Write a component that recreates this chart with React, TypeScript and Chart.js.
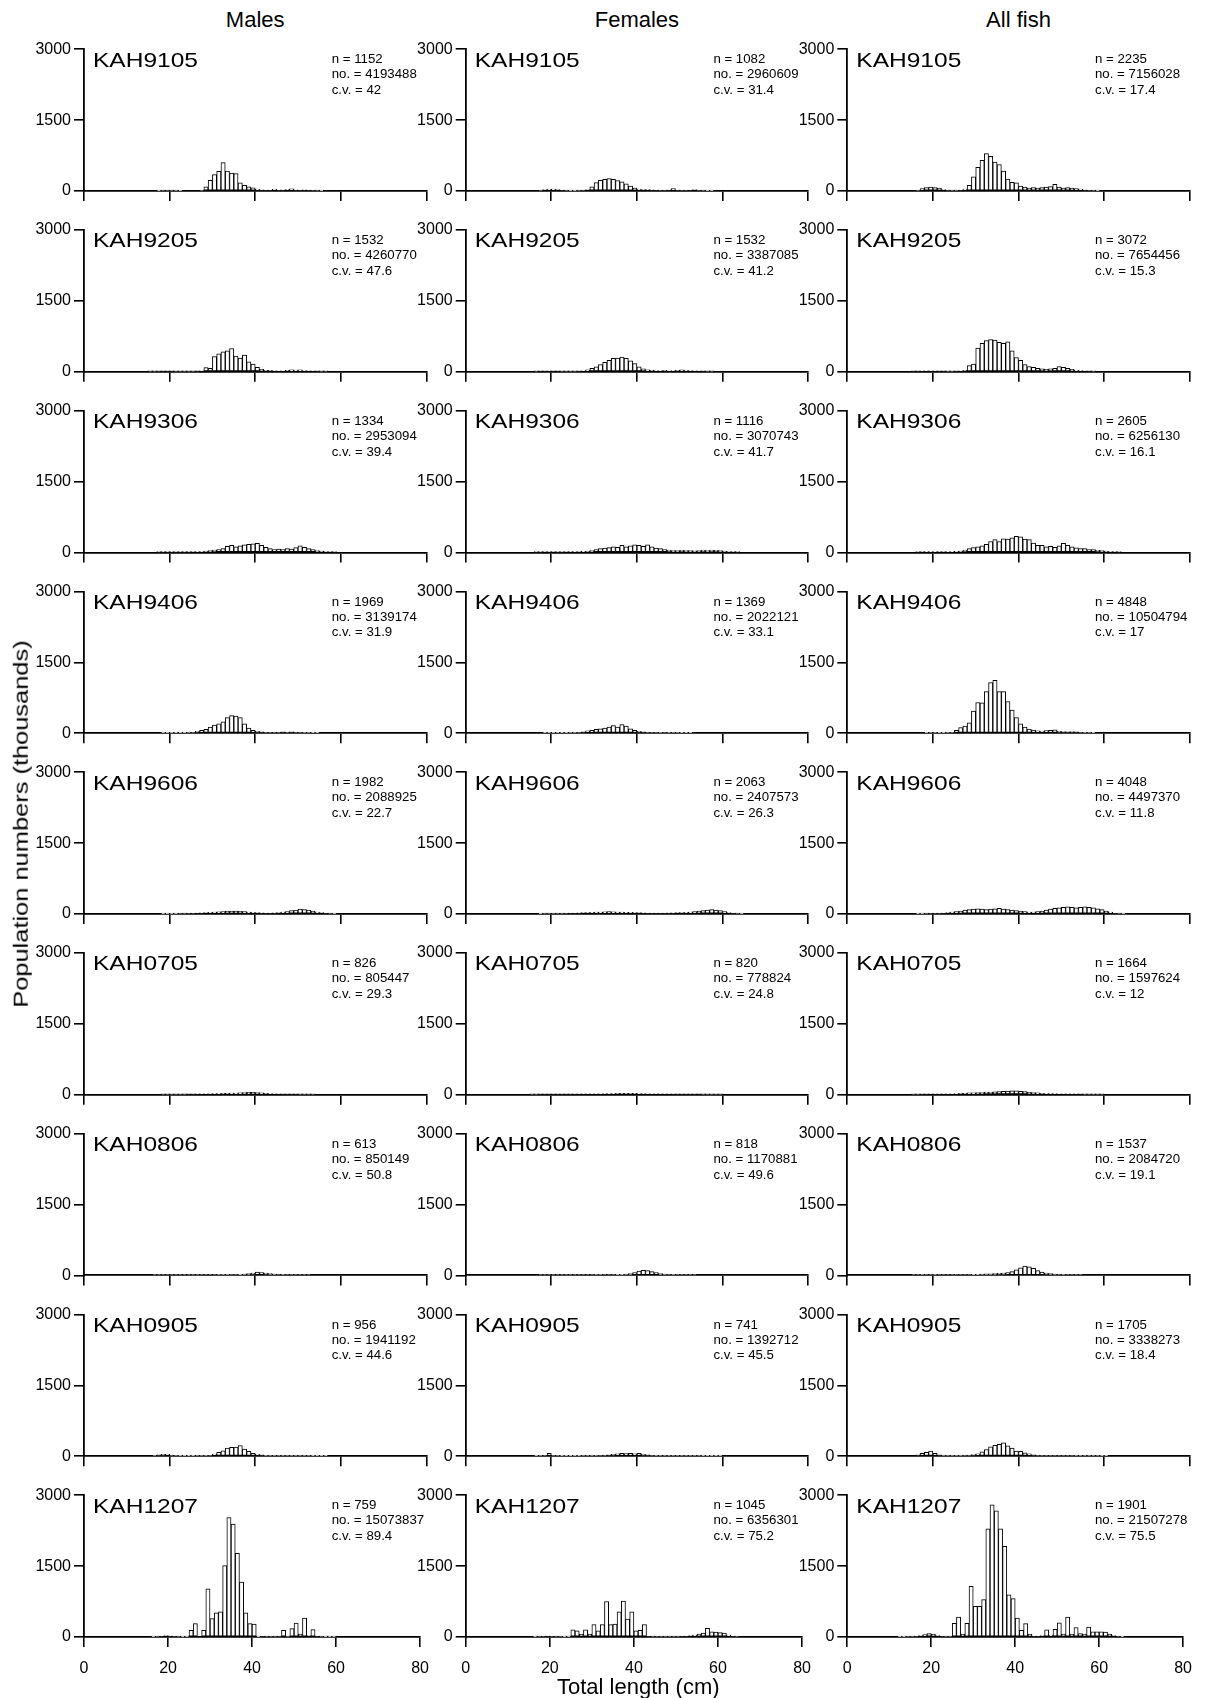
import React, { useEffect, useRef } from "react";
import { Chart, registerables } from "chart.js";
Chart.register(...registerables);

// ---------- categories / ticks ----------
// length bins (cm), each bin covers [L, L+1)
const lengthBins = [
  12, 13, 14, 15, 16, 17, 18, 19, 20, 21,
  22, 23, 24, 25, 26, 27, 28, 29, 30, 31,
  32, 33, 34, 35, 36, 37, 38, 39, 40, 41,
  42, 43, 44, 45, 46, 47, 48, 49, 50, 51,
  52, 53, 54, 55, 56, 57, 58, 59, 60, 61,
  62, 63, 64, 65, 66, 67,
];
const xTicks = [0, 20, 40, 60, 80];
const yTicks = [0, 1500, 3000];
const columnTitles = ["Males", "Females", "All fish"];
const surveys = ["KAH9105", "KAH9205", "KAH9306", "KAH9406", "KAH9606", "KAH0705", "KAH0806", "KAH0905", "KAH1207"];

// ---------- panel statistics ----------
const nMales = [1152, 1532, 1334, 1969, 1982, 826, 613, 956, 759];
const noMales = [4193488, 4260770, 2953094, 3139174, 2088925, 805447, 850149, 1941192, 15073837];
const cvMales = ["42", "47.6", "39.4", "31.9", "22.7", "29.3", "50.8", "44.6", "89.4"];
const nFemales = [1082, 1532, 1116, 1369, 2063, 820, 818, 741, 1045];
const noFemales = [2960609, 3387085, 3070743, 2022121, 2407573, 778824, 1170881, 1392712, 6356301];
const cvFemales = ["31.4", "41.2", "41.7", "33.1", "26.3", "24.8", "49.6", "45.5", "75.2"];
const nAll = [2235, 3072, 2605, 4848, 4048, 1664, 1537, 1705, 1901];
const noAll = [7156028, 7654456, 6256130, 10504794, 4497370, 1597624, 2084720, 3338273, 21507278];
const cvAll = ["17.4", "15.3", "16.1", "17", "11.8", "12", "19.1", "18.4", "75.5"];

// ---------- series values (thousands), one per length bin ----------
const males_KAH9105 = [
  0, 0, 0, 0, 0, 5, 10, 12, 10, 8,
  5, 0, 0, 0, 0, 10, 85, 225, 345, 415,
  600, 420, 380, 365, 170, 120, 85, 65, 40, 25,
  20, 20, 40, 20, 25, 30, 45, 25, 20, 25,
  20, 15, 10, 5, 0, 0, 0, 0, 0, 0,
  0, 0, 0, 0, 0, 0,
];
const females_KAH9105 = [
  0, 0, 0, 0, 0, 10, 30, 40, 40, 30,
  20, 10, 5, 5, 10, 15, 30, 85, 175, 225,
  245, 260, 245, 220, 190, 150, 100, 60, 40, 30,
  30, 25, 20, 15, 15, 25, 50, 20, 15, 15,
  20, 30, 15, 10, 5, 5, 0, 0, 0, 0,
  0, 0, 0, 0, 0, 0,
];
const all_KAH9105 = [
  0, 0, 0, 0, 10, 50, 70, 80, 70, 60,
  30, 15, 10, 10, 20, 40, 120, 300, 500, 650,
  790, 730, 610, 560, 420, 250, 180, 170, 100, 80,
  60, 70, 60, 70, 80, 90, 140, 80, 60, 70,
  60, 50, 40, 25, 15, 10, 5, 0, 0, 0,
  0, 0, 0, 0, 0, 0,
];
const males_KAH9205 = [
  0, 0, 0, 5, 5, 8, 10, 10, 10, 5,
  5, 5, 5, 5, 10, 20, 85, 70, 320, 380,
  420, 440, 490, 330, 290, 350, 210, 160, 90, 50,
  30, 30, 20, 20, 20, 30, 40, 35, 40, 25,
  20, 15, 10, 5, 5, 0, 0, 0, 0, 0,
  0, 0, 0, 0, 0, 0,
];
const females_KAH9205 = [
  0, 0, 0, 0, 5, 10, 10, 15, 10, 10,
  5, 5, 5, 5, 10, 20, 40, 70, 100, 150,
  200, 240, 280, 290, 310, 280, 230, 170, 100, 60,
  40, 30, 25, 20, 30, 20, 25, 30, 40, 35,
  25, 20, 15, 10, 5, 5, 0, 0, 0, 0,
  0, 0, 0, 0, 0, 0,
];
const all_KAH9205 = [
  0, 0, 0, 10, 10, 15, 20, 20, 15, 10,
  10, 5, 5, 10, 20, 30, 130, 160, 500, 600,
  660, 680, 670, 620, 600, 630, 440, 300, 240, 150,
  110, 90, 70, 60, 50, 60, 70, 110, 90, 70,
  50, 35, 25, 20, 10, 5, 0, 0, 0, 0,
  0, 0, 0, 0, 0, 0,
];
const males_KAH9306 = [
  0, 0, 0, 0, 0, 5, 5, 5, 5, 5,
  5, 5, 5, 10, 15, 20, 30, 40, 50, 60,
  80, 130, 150, 120, 140, 160, 170, 180, 190, 150,
  110, 80, 60, 70, 60, 80, 70, 100, 140, 110,
  80, 60, 40, 30, 20, 10, 5, 0, 0, 0,
  0, 0, 0, 0, 0, 0,
];
const females_KAH9306 = [
  0, 0, 0, 0, 5, 5, 10, 10, 10, 5,
  5, 10, 10, 15, 20, 25, 30, 40, 60, 80,
  90, 100, 120, 110, 150, 120, 140, 160, 150, 130,
  160, 120, 90, 80, 60, 50, 40, 40, 50, 40,
  40, 35, 40, 50, 40, 50, 45, 40, 30, 20,
  10, 5, 0, 0, 0, 0,
];
const all_KAH9306 = [
  0, 0, 0, 0, 5, 10, 15, 15, 15, 10,
  10, 15, 15, 25, 30, 50, 80, 100, 120, 140,
  170, 230, 270, 230, 290, 280, 310, 340, 330, 280,
  270, 200, 150, 150, 120, 130, 110, 140, 190, 150,
  120, 95, 80, 80, 60, 60, 45, 40, 30, 20,
  10, 5, 0, 0, 0, 0,
];
const males_KAH9406 = [
  0, 0, 0, 0, 0, 0, 5, 5, 5, 5,
  5, 5, 10, 20, 40, 60, 80, 130, 170, 200,
  240, 330, 370, 360, 330, 200, 110, 60, 40, 30,
  20, 20, 25, 20, 30, 25, 30, 25, 20, 15,
  10, 5, 5, 0, 0, 0, 0, 0, 0, 0,
  0, 0, 0, 0, 0, 0,
];
const females_KAH9406 = [
  0, 0, 0, 0, 0, 0, 5, 5, 5, 5,
  5, 5, 10, 15, 20, 30, 50, 60, 80, 90,
  110, 130, 160, 130, 180, 150, 90, 60, 40, 30,
  25, 20, 20, 15, 20, 15, 10, 10, 5, 5,
  5, 0, 0, 0, 0, 0, 0, 0, 0, 0,
  0, 0, 0, 0, 0, 0,
];
const all_KAH9406 = [
  0, 0, 0, 0, 0, 0, 5, 10, 10, 5,
  5, 10, 20, 60, 120, 150, 220, 470, 650, 640,
  880, 1070, 1120, 880, 880, 670, 490, 330, 200, 130,
  85, 65, 50, 45, 55, 60, 70, 40, 35, 30,
  35, 30, 20, 15, 10, 5, 0, 0, 0, 0,
  0, 0, 0, 0, 0, 0,
];
const males_KAH9606 = [
  0, 0, 0, 0, 0, 0, 5, 5, 5, 5,
  10, 10, 15, 15, 20, 25, 30, 35, 40, 45,
  50, 55, 60, 60, 55, 50, 40, 35, 30, 25,
  20, 20, 25, 30, 40, 50, 70, 80, 100, 90,
  80, 60, 40, 30, 20, 10, 5, 0, 0, 0,
  0, 0, 0, 0, 0, 0,
];
const females_KAH9606 = [
  0, 0, 0, 0, 0, 5, 10, 10, 10, 10,
  10, 15, 20, 20, 25, 30, 30, 35, 40, 40,
  45, 50, 45, 40, 40, 35, 35, 30, 30, 25,
  20, 20, 20, 20, 20, 25, 25, 30, 30, 35,
  40, 50, 60, 70, 80, 90, 80, 70, 50, 30,
  20, 10, 5, 0, 0, 0,
];
const all_KAH9606 = [
  0, 0, 0, 0, 5, 5, 10, 15, 15, 15,
  20, 30, 40, 50, 60, 80, 90, 100, 110, 100,
  90, 100, 110, 120, 100, 90, 80, 70, 60, 50,
  40, 40, 50, 60, 80, 100, 120, 130, 140, 150,
  140, 130, 140, 150, 140, 130, 110, 90, 60, 40,
  20, 10, 5, 0, 0, 0,
];
const males_KAH0705 = [
  0, 0, 0, 0, 0, 0, 5, 5, 5, 5,
  5, 5, 10, 10, 15, 15, 20, 20, 25, 25,
  30, 30, 35, 35, 40, 45, 50, 50, 45, 40,
  30, 25, 20, 15, 10, 10, 10, 10, 5, 5,
  5, 5, 0, 0, 0, 0, 0, 0, 0, 0,
  0, 0, 0, 0, 0, 0,
];
const females_KAH0705 = [
  0, 0, 0, 5, 5, 10, 10, 10, 10, 10,
  10, 10, 10, 15, 15, 15, 20, 20, 20, 20,
  25, 25, 25, 30, 30, 30, 30, 30, 25, 25,
  20, 20, 20, 15, 15, 15, 15, 10, 10, 10,
  10, 10, 10, 5, 5, 5, 5, 5, 0, 0,
  0, 0, 0, 0, 0, 0,
];
const all_KAH0705 = [
  0, 0, 0, 5, 5, 10, 10, 15, 15, 15,
  15, 15, 20, 25, 30, 30, 40, 40, 45, 45,
  55, 55, 60, 65, 70, 75, 80, 80, 70, 65,
  50, 45, 40, 30, 25, 25, 25, 20, 15, 15,
  15, 15, 10, 5, 5, 5, 5, 5, 0, 0,
  0, 0, 0, 0, 0, 0,
];
const males_KAH0806 = [
  0, 0, 0, 0, 5, 5, 10, 10, 10, 5,
  5, 5, 5, 5, 5, 10, 10, 10, 10, 15,
  15, 15, 20, 20, 25, 30, 40, 50, 70, 60,
  50, 40, 30, 20, 15, 10, 10, 5, 5, 5,
  5, 0, 0, 0, 0, 0, 0, 0, 0, 0,
  0, 0, 0, 0, 0, 0,
];
const females_KAH0806 = [
  0, 0, 0, 0, 0, 5, 5, 10, 5, 5,
  5, 5, 5, 5, 5, 10, 10, 10, 15, 15,
  20, 20, 20, 25, 25, 30, 40, 60, 90, 110,
  100, 80, 60, 40, 30, 20, 15, 10, 10, 5,
  5, 5, 0, 0, 0, 0, 0, 0, 0, 0,
  0, 0, 0, 0, 0, 0,
];
const all_KAH0806 = [
  0, 0, 0, 5, 10, 15, 20, 20, 15, 10,
  10, 10, 10, 10, 10, 20, 20, 25, 25, 30,
  35, 35, 40, 45, 50, 60, 80, 120, 160, 200,
  180, 150, 100, 70, 50, 40, 30, 20, 15, 10,
  10, 5, 5, 0, 0, 0, 0, 0, 0, 0,
  0, 0, 0, 0, 0, 0,
];
const males_KAH0905 = [
  0, 0, 0, 0, 10, 30, 40, 45, 20, 10,
  5, 5, 5, 5, 10, 10, 15, 20, 45, 80,
  115, 170, 185, 190, 225, 150, 100, 60, 45, 30,
  15, 10, 10, 10, 10, 10, 10, 10, 10, 10,
  10, 5, 5, 5, 5, 0, 0, 0, 0, 0,
  0, 0, 0, 0, 0, 0,
];
const females_KAH0905 = [
  0, 0, 0, 0, 5, 10, 20, 60, 20, 10,
  5, 5, 5, 5, 5, 10, 10, 15, 15, 20,
  25, 30, 40, 50, 60, 55, 60, 50, 60, 40,
  30, 20, 15, 10, 10, 10, 10, 10, 10, 10,
  10, 10, 10, 5, 5, 5, 5, 5, 0, 0,
  0, 0, 0, 0, 0, 0,
];
const all_KAH0905 = [
  0, 0, 0, 0, 30, 60, 80, 110, 60, 30,
  10, 10, 10, 10, 15, 20, 25, 35, 50, 90,
  140, 200, 230, 250, 280, 220, 170, 110, 100, 70,
  50, 30, 25, 20, 20, 20, 20, 20, 20, 20,
  20, 15, 15, 10, 10, 10, 10, 5, 5, 0,
  0, 0, 0, 0, 0, 0,
];
const males_KAH1207 = [
  0, 0, 0, 0, 5, 10, 20, 30, 25, 15,
  10, 5, 5, 140, 280, 0, 140, 1020, 390, 510,
  530, 1510, 2530, 2390, 1770, 1160, 510, 280, 270, 5,
  20, 10, 10, 10, 15, 140, 10, 175, 295, 60,
  400, 30, 155, 20, 10, 5, 5, 5, 0, 0,
  0, 0, 0, 0, 0, 0,
];
const females_KAH1207 = [
  0, 0, 0, 0, 5, 10, 15, 20, 15, 10,
  10, 5, 5, 150, 130, 60, 150, 60, 260, 130,
  260, 750, 260, 270, 530, 760, 380, 530, 130, 140,
  260, 20, 10, 10, 10, 10, 10, 10, 10, 20,
  20, 30, 40, 60, 80, 180, 110, 100, 90, 80,
  40, 20, 10, 0, 0, 0,
];
const all_KAH1207 = [
  5, 5, 10, 10, 15, 30, 50, 70, 60, 30,
  20, 10, 10, 290, 420, 60, 290, 1070, 650, 650,
  790, 2290, 2800, 2670, 2290, 1920, 890, 810, 400, 140,
  280, 60, 20, 20, 30, 150, 40, 160, 300, 60,
  420, 60, 200, 70, 60, 210, 110, 110, 110, 100,
  60, 30, 15, 5, 0, 0,
];

const seriesGrid = [
  [males_KAH9105, females_KAH9105, all_KAH9105],
  [males_KAH9205, females_KAH9205, all_KAH9205],
  [males_KAH9306, females_KAH9306, all_KAH9306],
  [males_KAH9406, females_KAH9406, all_KAH9406],
  [males_KAH9606, females_KAH9606, all_KAH9606],
  [males_KAH0705, females_KAH0705, all_KAH0705],
  [males_KAH0806, females_KAH0806, all_KAH0806],
  [males_KAH0905, females_KAH0905, all_KAH0905],
  [males_KAH1207, females_KAH1207, all_KAH1207],
];
const statsGrid = [
  [nMales, noMales, cvMales],
  [nFemales, noFemales, cvFemales],
  [nAll, noAll, cvAll],
];

// ---------- layout ----------
const FONT = '"Liberation Sans", Arial, Helvetica, sans-serif';
const INK = "#000";
const PLOT_LEFT = [84, 465.7, 847.3];
const PLOT_W = 342.4;
const ROW_TOP0 = 49.3;
const ROW_STEP = 180.75;
const PLOT_H = 141.6;

function Panel({ row, col }: { row: number; col: number }) {
  const ref = useRef<HTMLCanvasElement>(null);
  const plotLeft = PLOT_LEFT[col];
  const plotTop = ROW_TOP0 + row * ROW_STEP;
  const L = Math.floor(plotLeft - 74);
  const T = Math.floor(plotTop - 22);
  const yAxisW = plotLeft - L;
  const padTop = plotTop - T;
  const W = Math.ceil(yAxisW + PLOT_W + 14);
  const padRight = W - yAxisW - PLOT_W;
  const H = Math.ceil(padTop + PLOT_H + 50);
  const xAxisH = H - padTop - PLOT_H;
  const isBottom = row === surveys.length - 1;

  useEffect(() => {
    const values = seriesGrid[row][col];
    const [nArr, noArr, cvArr] = statsGrid[col];
    const label = surveys[row];
    const lines = [`n = ${nArr[row]}`, `no. = ${noArr[row]}`, `c.v. = ${cvArr[row]}`];
    const textPlugin = {
      id: "panelText",
      afterDraw(chart: any) {
        const { ctx, chartArea } = chart;
        ctx.save();
        ctx.fillStyle = INK;
        ctx.textAlign = "left";
        ctx.textBaseline = "alphabetic";
        ctx.save();
        ctx.translate(chartArea.left + 9, chartArea.top + 17.4);
        ctx.scale(1.168, 1);
        ctx.font = `21px ${FONT}`;
        ctx.fillText(label, 0, 0);
        ctx.restore();
        const baselines = [14, 29, 44.7];
        lines.forEach((t, i) => {
          ctx.save();
          ctx.translate(chartArea.left + 247.7, chartArea.top + baselines[i]);
          ctx.scale(1.06, 1);
          ctx.font = `12.5px ${FONT}`;
          ctx.fillText(t, 0, 0);
          ctx.restore();
        });
        ctx.restore();
      },
    };
    const chart = new Chart(ref.current as HTMLCanvasElement, {
      type: "bar",
      data: {
        datasets: [
          {
            data: lengthBins.map((b, i) => ({ x: b + 0.5, y: values[i] })),
            backgroundColor: "#fff",
            borderColor: INK,
            borderWidth: 1,
            borderSkipped: false,
            barPercentage: 1,
            categoryPercentage: 1,
          } as any,
        ],
      },
      options: {
        responsive: false,
        animation: false,
        events: [],
        layout: { padding: { left: 0, top: padTop, right: padRight, bottom: 0 } },
        plugins: { legend: { display: false }, tooltip: { enabled: false } },
        scales: {
          x: {
            type: "linear",
            min: 0,
            max: 80,
            offset: false,
            afterBuildTicks: (s: any) => {
              s.ticks = xTicks.map((v) => ({ value: v }));
            },
            afterFit: (s: any) => {
              s.height = xAxisH;
            },
            grid: { offset: false, drawOnChartArea: false, drawTicks: true, tickLength: 10, color: INK, lineWidth: 1.6 },
            border: { display: true, color: INK, width: 1.8 },
            ticks: {
              display: isBottom,
              color: INK,
              padding: 12,
              maxRotation: 0,
              autoSkip: false,
              font: { family: FONT, size: 16 },
              callback: (v: any) => String(v),
            },
          },
          y: {
            type: "linear",
            min: 0,
            max: 3000,
            afterBuildTicks: (s: any) => {
              s.ticks = yTicks.map((v) => ({ value: v }));
            },
            afterFit: (s: any) => {
              s.width = yAxisW;
            },
            grid: { drawOnChartArea: false, drawTicks: true, tickLength: 10, color: INK, lineWidth: 1.6 },
            border: { display: true, color: INK, width: 1.8 },
            ticks: {
              color: INK,
              padding: 3,
              autoSkip: false,
              font: { family: FONT, size: 16 },
              callback: (v: any) => String(v),
            },
          },
        },
      } as any,
      plugins: [textPlugin],
    });
    return () => chart.destroy();
  }, []);

  return (
    <canvas
      ref={ref}
      width={W}
      height={H}
      style={{ position: "absolute", left: L, top: T, width: W, height: H }}
    />
  );
}

export default function App() {
  return (
    <div
      style={{
        position: "absolute",
        left: 0,
        top: 0,
        width: 1205,
        height: 1698,
        background: "#fff",
        overflow: "hidden",
        fontFamily: FONT,
        color: INK,
      }}
    >
      {columnTitles.map((t, c) => (
        <div
          key={t}
          style={{
            position: "absolute",
            left: PLOT_LEFT[c] + PLOT_W / 2,
            top: 8.8,
            transform: "translateX(-50%)",
            fontSize: 22,
            lineHeight: "22px",
            whiteSpace: "nowrap",
          }}
        >
          {t}
        </div>
      ))}
      {surveys.map((s, r) =>
        [0, 1, 2].map((c) => <Panel key={`${s}-${c}`} row={r} col={c} />)
      )}
      <div
        style={{
          position: "absolute",
          left: 21,
          top: 824,
          transform: "translate(-50%, -50%) rotate(-90deg) scaleX(1.24)",
          fontSize: 20.5,
          lineHeight: "20.5px",
          whiteSpace: "nowrap",
        }}
      >
        Population numbers (thousands)
      </div>
      <div
        style={{
          position: "absolute",
          left: 638.3,
          top: 1676.3,
          transform: "translateX(-50%)",
          fontSize: 22,
          lineHeight: "22px",
          whiteSpace: "nowrap",
        }}
      >
        Total length (cm)
      </div>
    </div>
  );
}
